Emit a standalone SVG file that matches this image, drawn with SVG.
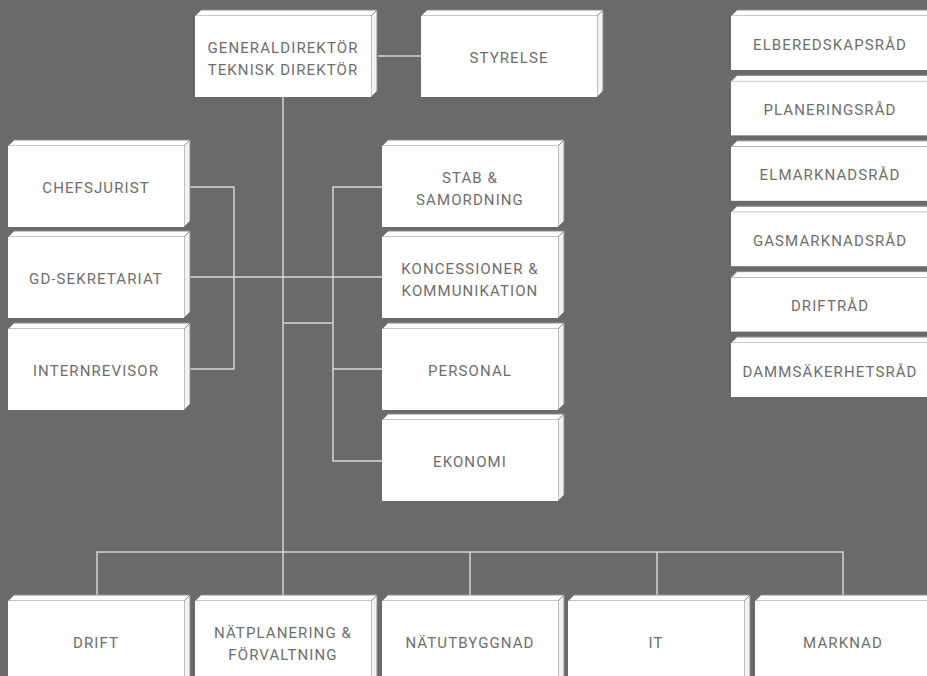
<svg xmlns="http://www.w3.org/2000/svg" xmlns:xlink="http://www.w3.org/1999/xlink" width="927" height="676" viewBox="0 0 927 676">
<style>
.face{fill:#ffffff;stroke:#8c8c8c;stroke-width:1}
.side{fill:#f2f2f2;stroke:#8c8c8c;stroke-width:1}
.front{fill:#ffffff}
.lbl{font-family:Roboto,"DejaVu Sans",sans-serif;font-size:15px;fill:#6e6e6e;letter-spacing:1.1px;text-anchor:middle}
.conn{fill:none;stroke:#d6d6d6;stroke-width:1.5}
</style>
<defs>
<g id="box3d">
<polygon class="face" points="0,0 6,-6 182,-6 176,0"/>
<polygon class="side" points="176,0 182,-6 182,75 176,81"/>
<rect class="front" x="0" y="0" width="176" height="81"/>
</g>
<g id="council">
<polygon class="face" points="0,0 6,-6 206,-6 200,0"/>
<rect class="front" x="0" y="0" width="200" height="54"/>
</g>
</defs>
<rect width="927" height="676" fill="#6a6a6a"/>
<g id="connectors">
<path class="conn" d="M378 56H421"/>
<path class="conn" d="M283 97V595"/>
<path class="conn" d="M190 187H234V369H190M190 277H382"/>
<path class="conn" d="M382 187H333V461H382M382 369H333M283 323H333"/>
<path class="conn" d="M97 595V552H843V595M470 552V595M657 552V595"/>
</g>
<g id="n-gd"><use xlink:href="#box3d" x="195" y="16"/><text class="lbl" x="283" y="52.5">GENERALDIREKTÖR</text><text class="lbl" x="283" y="74.5">TEKNISK DIREKTÖR</text></g>
<g id="n-styrelse"><use xlink:href="#box3d" x="421" y="16"/><text class="lbl" x="509" y="63">STYRELSE</text></g>
<g id="n-chefsjurist"><use xlink:href="#box3d" x="8" y="146"/><text class="lbl" x="96" y="193">CHEFSJURIST</text></g>
<g id="n-gdsekr"><use xlink:href="#box3d" x="8" y="237"/><text class="lbl" x="96" y="284">GD-SEKRETARIAT</text></g>
<g id="n-internrevisor"><use xlink:href="#box3d" x="8" y="329"/><text class="lbl" x="96" y="376">INTERNREVISOR</text></g>
<g id="n-stab"><use xlink:href="#box3d" x="382" y="146"/><text class="lbl" x="470" y="182.5">STAB &amp;</text><text class="lbl" x="470" y="204.5">SAMORDNING</text></g>
<g id="n-koncessioner"><use xlink:href="#box3d" x="382" y="237"/><text class="lbl" x="470" y="273.5">KONCESSIONER &amp;</text><text class="lbl" x="470" y="295.5">KOMMUNIKATION</text></g>
<g id="n-personal"><use xlink:href="#box3d" x="382" y="329"/><text class="lbl" x="470" y="376">PERSONAL</text></g>
<g id="n-ekonomi"><use xlink:href="#box3d" x="382" y="420"/><text class="lbl" x="470" y="467">EKONOMI</text></g>
<g id="n-drift"><use xlink:href="#box3d" x="8" y="601"/><text class="lbl" x="96" y="648">DRIFT</text></g>
<g id="n-natplanering"><use xlink:href="#box3d" x="195" y="601"/><text class="lbl" x="283" y="637.5">NÄTPLANERING &amp;</text><text class="lbl" x="283" y="659.5">FÖRVALTNING</text></g>
<g id="n-natutbyggnad"><use xlink:href="#box3d" x="382" y="601"/><text class="lbl" x="470" y="648">NÄTUTBYGGNAD</text></g>
<g id="n-it"><use xlink:href="#box3d" x="568" y="601"/><text class="lbl" x="656" y="648">IT</text></g>
<g id="n-marknad"><use xlink:href="#box3d" x="755" y="601"/><text class="lbl" x="843" y="648">MARKNAD</text></g>
<g id="n-elberedskap"><use xlink:href="#council" x="731" y="16"/><text class="lbl" x="830" y="49.5">ELBEREDSKAPSRÅD</text></g>
<g id="n-planering"><use xlink:href="#council" x="731" y="81.4"/><text class="lbl" x="830" y="114.9">PLANERINGSRÅD</text></g>
<g id="n-elmarknad"><use xlink:href="#council" x="731" y="146.8"/><text class="lbl" x="830" y="180.3">ELMARKNADSRÅD</text></g>
<g id="n-gasmarknad"><use xlink:href="#council" x="731" y="212.2"/><text class="lbl" x="830" y="245.7">GASMARKNADSRÅD</text></g>
<g id="n-driftrad"><use xlink:href="#council" x="731" y="277.6"/><text class="lbl" x="830" y="311.1">DRIFTRÅD</text></g>
<g id="n-damm"><use xlink:href="#council" x="731" y="343"/><text class="lbl" x="830" y="376.5">DAMMSÄKERHETSRÅD</text></g>
</svg>
